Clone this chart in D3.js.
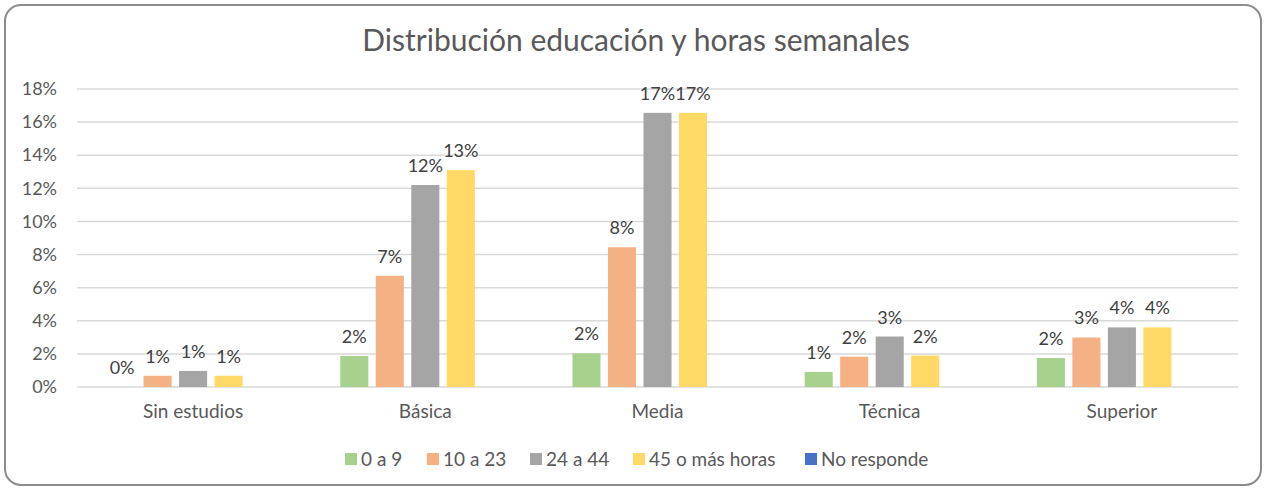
<!DOCTYPE html>
<html>
<head>
<meta charset="utf-8">
<script src="https://cdn.jsdelivr.net/npm/d3@7"></script>
<style>
  body { margin: 0; background: #fff; }
  svg text { font-family: Lato, "Open Sans", sans-serif; }
</style>
</head>
<body>
<div id="chart"></div>
<script>
var categorias = ["Sin estudios", "Básica", "Media", "Técnica", "Superior"];
var series = ["0 a 9", "10 a 23", "24 a 44", "45 o más horas", "No responde"];
var colores = ["#A9D18E", "#F4B183", "#A5A5A5", "#FFD966", "#4472C4"];
// valores en % por serie, en el orden de categorias
var v0a9 = [0, 1.87, 2.04, 0.91, 1.75];
var v10a23 = [0.68, 6.72, 8.44, 1.83, 2.99];
var v24a44 = [0.97, 12.2, 16.56, 3.05, 3.6];
var v45mas = [0.68, 13.1, 16.56, 1.9, 3.6];
var vNoResp = [null, null, null, null, null];
var yTicks = [0, 2, 4, 6, 8, 10, 12, 14, 16, 18];

var valores = [v0a9, v10a23, v24a44, v45mas, vNoResp];

var W = 1266, H = 489;
var margin = {top: 89, right: 28, bottom: 102, left: 77},
    width = W - margin.left - margin.right,
    height = H - margin.top - margin.bottom;

var svg = d3.select("#chart").append("svg")
    .attr("width", W)
    .attr("height", H);

// marco
svg.append("rect")
    .attr("x", 5).attr("y", 5)
    .attr("width", W - 10).attr("height", H - 9)
    .attr("rx", 16).attr("ry", 16)
    .attr("fill", "#fff")
    .attr("stroke", "#8c8c8c")
    .attr("stroke-width", 2);

svg.append("text")
    .attr("x", 636).attr("y", 51)
    .attr("text-anchor", "middle")
    .style("font-size", "30px")
    .style("fill", "#595959")
    .text("Distribución educación y horas semanales");

var g = svg.append("g")
    .attr("transform", "translate(" + margin.left + "," + margin.top + ")");

var x0 = d3.scaleBand().domain(categorias).range([0, width]).padding(0);
var x1 = d3.scaleBand().domain(series).range([0, x0.bandwidth()])
    .paddingInner(0.21).paddingOuter(0.875);
var y = d3.scaleLinear().domain([0, 18]).range([height, 0]);

// rejilla
g.selectAll(".grid")
    .data(yTicks)
    .enter().append("line")
    .attr("x1", 0).attr("x2", width)
    .attr("y1", function(d) { return y(d); })
    .attr("y2", function(d) { return y(d); })
    .attr("stroke", "#d9d9d9")
    .attr("stroke-width", 1.5);

var yAxis = g.append("g")
    .call(d3.axisLeft(y).tickValues(yTicks).tickSize(0).tickPadding(20)
        .tickFormat(function(d) { return d + "%"; }));
yAxis.select(".domain").remove();
yAxis.selectAll("text")
    .style("font-size", "18px")
    .style("fill", "#595959");

var xAxis = g.append("g")
    .attr("transform", "translate(0," + height + ")")
    .call(d3.axisBottom(x0).tickSize(0).tickPadding(18));
xAxis.select(".domain").remove();
xAxis.selectAll("text")
    .style("font-size", "19px")
    .style("fill", "#595959");

var grupos = g.selectAll(".cat")
    .data(categorias)
    .enter().append("g")
    .attr("transform", function(d) { return "translate(" + x0(d) + ",0)"; });

grupos.each(function(cat, ci) {
    var datos = series.map(function(s, si) {
        return {serie: s, color: colores[si], value: valores[si][ci]};
    }).filter(function(d) { return d.value !== null; });

    var sel = d3.select(this);
    sel.selectAll("rect")
        .data(datos)
        .enter().append("rect")
        .attr("x", function(d) { return x1(d.serie); })
        .attr("width", x1.bandwidth())
        .attr("y", function(d) { return y(d.value); })
        .attr("height", function(d) { return height - y(d.value); })
        .attr("fill", function(d) { return d.color; });

    sel.selectAll(".lbl")
        .data(datos)
        .enter().append("text")
        .attr("x", function(d) { return x1(d.serie) + x1.bandwidth() / 2; })
        .attr("y", function(d) { return y(d.value) - 13; })
        .attr("text-anchor", "middle")
        .style("font-size", "18px")
        .style("fill", "#404040")
        .text(function(d) { return Math.round(d.value) + "%"; });
});

// leyenda
var legendX = [345, 427, 530, 633, 805];
var leyenda = svg.append("g");
series.forEach(function(s, i) {
    leyenda.append("rect")
        .attr("x", legendX[i]).attr("y", 453)
        .attr("width", 12).attr("height", 12)
        .attr("fill", colores[i]);
    leyenda.append("text")
        .attr("x", legendX[i] + 16).attr("y", 466)
        .style("font-size", "19px")
        .style("fill", "#595959")
        .text(s);
});
</script>
</body>
</html>
